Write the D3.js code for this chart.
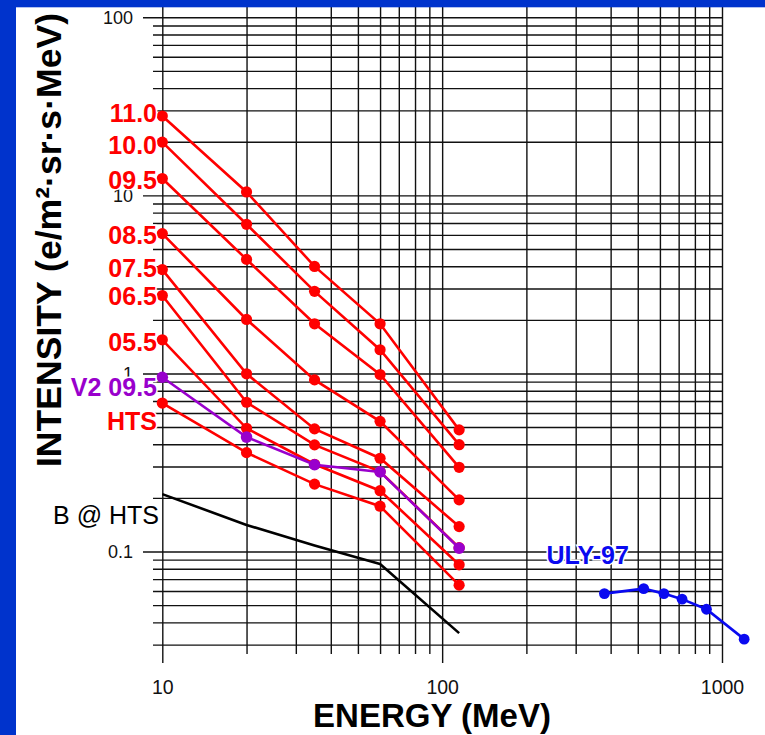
<!DOCTYPE html>
<html>
<head>
<meta charset="utf-8">
<script src="https://cdn.jsdelivr.net/npm/d3@7"></script>
<style>
  html, body { margin: 0; padding: 0; background: #ffffff; }
  svg { display: block; }
  text { font-family: "Liberation Sans", Arial, sans-serif; }
</style>
</head>
<body>
<svg id="chart" width="765" height="735"></svg>
<script>
// Energy channels (MeV) shared by the balloon series
const energy = [10, 20, 35, 60, 115];

// Electron intensities (e/m²·sr·s·MeV) per flight altitude
const int110 = [27.9, 10.45, 3.99, 1.90, 0.482];
const int100 = [19.9, 6.88, 2.89, 1.358, 0.398];
const int095 = [12.43, 4.37, 1.90, 0.986, 0.297];
const int085 = [6.10, 2.01, 0.920, 0.538, 0.195];
const int075 = [3.83, 0.995, 0.488, 0.334, 0.138];
const int065 = [2.74, 0.689, 0.397, 0.281, 0.105];
const int055 = [1.545, 0.492, 0.309, 0.2195, 0.0842];
const intHTS = [0.682, 0.359, 0.239, 0.1796, 0.0647];
const intV2 = [0.952, 0.439, 0.307, 0.280, 0.1045];

// Background at HTS (no markers)
const bkgHTS = [0.210, 0.141, 0.108, 0.085, 0.0348];

// Ulysses 1997 spectrum
const ulyEnergy = [380, 525, 620, 720, 880, 1200];
const ulyIntensity = [0.058, 0.0619, 0.058, 0.054, 0.0474, 0.0322];

// Series names
const redNames = ["11.0", "10.0", "09.5", "08.5", "07.5", "06.5", "05.5", "HTS"];
const redValues = [int110, int100, int095, int085, int075, int065, int055, intHTS];
const v2Name = "V2 09.5";
const bkgName = "B @ HTS";
const ulyName = "ULY-97";

// Axis tick labels
const xMajor = [10, 100, 1000];
const yMajor = [0.1, 1, 10, 100];
const xTickText = ["10", "100", "1000"];
const yTickText = ["0.1", "1", "10", "100"];

const xTitle = "ENERGY (MeV)";
const yTitle = "INTENSITY (e/m²·sr·s·MeV)";

// ---------------------------------------------------------------
const svg = d3.select("#chart");
const FONT = '"Liberation Sans", Arial, sans-serif';

const x = d3.scaleLog().domain([10, 1000]).range([162.3, 722]);
const y = d3.scaleLog().domain([0.03, 100]).range([644.6, 17.3]);

const gridTop = 6;
const xRight = x(1000);

svg.append("rect").attr("x", 0).attr("y", 0).attr("width", 765).attr("height", 735).attr("fill", "#ffffff");

// Horizontal grid: minor lines start a bit inside the major ones
const yMinor = y.ticks().filter(v => !yMajor.some(m => Math.abs(m - v) / m < 1e-6));
svg.append("g")
  .attr("transform", `translate(153,0)`)
  .call(d3.axisLeft(y).tickValues(yMinor).tickSize(-(xRight - 153)).tickFormat(""))
  .call(g => g.select(".domain").remove());

svg.append("g")
  .attr("transform", `translate(143,0)`)
  .call(d3.axisLeft(y).tickValues(yMajor).tickSize(-(xRight - 143)).tickPadding(10)
        .tickFormat((d, i) => yTickText[i]))
  .call(g => g.select(".domain").remove())
  .call(g => g.selectAll("text").attr("font-size", 18).attr("font-family", FONT).attr("fill", "#111").attr("dy", "0.34em"));

// Vertical grid: minor lines end above the major ticks
const xMinor = x.ticks().filter(v => !xMajor.includes(v));
svg.append("g")
  .attr("transform", `translate(0,654)`)
  .call(d3.axisBottom(x).tickValues(xMinor).tickSize(-(654 - gridTop)).tickFormat(""))
  .call(g => g.select(".domain").remove());

svg.append("g")
  .attr("transform", `translate(0,663)`)
  .call(d3.axisBottom(x).tickValues(xMajor).tickSize(-(663 - gridTop)).tickPadding(17)
        .tickFormat((d, i) => xTickText[i]))
  .call(g => g.select(".domain").remove())
  .call(g => g.selectAll("text").attr("font-size", 19.5).attr("font-family", FONT).attr("fill", "#111"));

svg.selectAll(".tick line").attr("stroke", "#111").attr("stroke-width", 1.4);

// Line generator
const line = d3.line().x(d => x(d[0])).y(d => y(d[1]));
const pairs = (xs, ys) => xs.map((e, i) => [e, ys[i]]);

// Background curve
svg.append("path")
  .attr("d", line(pairs(energy, bkgHTS)))
  .attr("fill", "none").attr("stroke", "#000").attr("stroke-width", 2.6).attr("stroke-linejoin", "round");

// Red altitude series
const red = "#ff0000";
redValues.forEach(vals => {
  const pts = pairs(energy, vals);
  svg.append("path").attr("d", line(pts))
    .attr("fill", "none").attr("stroke", red).attr("stroke-width", 2.6);
  svg.append("g").selectAll("circle").data(pts).join("circle")
    .attr("cx", d => x(d[0])).attr("cy", d => y(d[1])).attr("r", 5.6).attr("fill", red);
});

// Voyager 2 series
const purple = "#9900cc";
const v2pts = pairs(energy, intV2);
svg.append("path").attr("d", line(v2pts))
  .attr("fill", "none").attr("stroke", purple).attr("stroke-width", 2.6);
svg.append("g").selectAll("circle").data(v2pts).join("circle")
  .attr("cx", d => x(d[0])).attr("cy", d => y(d[1])).attr("r", 5.8).attr("fill", purple);

// Ulysses series
const blue = "#0a0af0";
const ulyPts = pairs(ulyEnergy, ulyIntensity);
svg.append("path").attr("d", line(ulyPts))
  .attr("fill", "none").attr("stroke", blue).attr("stroke-width", 2.6);
svg.append("g").selectAll("circle").data(ulyPts).join("circle")
  .attr("cx", d => x(d[0])).attr("cy", d => y(d[1])).attr("r", 5.4).attr("fill", blue);

// Series labels, right-aligned next to the first point
const labelRight = 157;
const redLabelDy = [6, 12, 10, 10, 7, 10, 11, 27];
function seriesLabel(txt, px, py, color, weight, anchor) {
  svg.append("text")
    .attr("x", px).attr("y", py)
    .attr("text-anchor", anchor)
    .attr("font-size", 25).attr("font-weight", weight)
    .attr("fill", color)
    .attr("stroke", "#ffffff").attr("stroke-width", 3).attr("paint-order", "stroke")
    .text(txt);
}
redNames.forEach((nm, i) => {
  seriesLabel(nm, labelRight, y(redValues[i][0]) + redLabelDy[i], red, "bold", "end");
});
seriesLabel(v2Name, labelRight, y(intV2[0]) + 19, purple, "bold", "end");
seriesLabel(bkgName, 159, y(bkgHTS[0]) + 30, "#000", "normal", "end");
seriesLabel(ulyName, x(ulyEnergy[0]) - 58, y(ulyIntensity[0]) - 30, blue, "bold", "start");

// Axis titles
svg.append("text")
  .attr("x", 432).attr("y", 727)
  .attr("text-anchor", "middle")
  .attr("font-size", 33).attr("font-weight", "bold").attr("fill", "#000")
  .text(xTitle);

svg.append("text")
  .attr("transform", "translate(61,240) rotate(-90)")
  .attr("text-anchor", "middle")
  .attr("font-size", 35.6).attr("font-weight", "bold").attr("fill", "#000")
  .text(yTitle);

// Blue frame on the left and top edges
svg.append("rect").attr("x", 0).attr("y", 0).attr("width", 765).attr("height", 7.3).attr("fill", "#0033cc");
svg.append("rect").attr("x", 0).attr("y", 0).attr("width", 16).attr("height", 735).attr("fill", "#0033cc");
</script>
</body>
</html>
